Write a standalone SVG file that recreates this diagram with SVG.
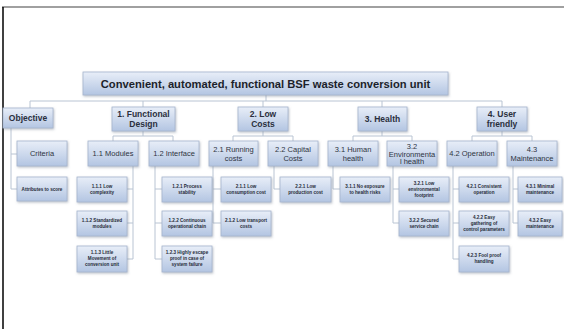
<svg xmlns="http://www.w3.org/2000/svg" width="564" height="329" viewBox="0 0 564 329">
<defs>
<linearGradient id="g" x1="0" y1="0" x2="0" y2="1">
<stop offset="0" stop-color="#e8eef8"/>
<stop offset="1" stop-color="#b3c5e2"/>
</linearGradient>
<filter id="sh" x="-10%" y="-10%" width="130%" height="140%">
<feDropShadow dx="0.8" dy="1.2" stdDeviation="0.8" flood-color="#7a8494" flood-opacity="0.5"/>
</filter>
<style>
.b{fill:url(#g);stroke:#a6b5cd;stroke-width:0.8;filter:url(#sh)}
.c{fill:none;stroke:#b9c4d3;stroke-width:1}
text{font-family:"Liberation Sans",Arial,sans-serif;text-anchor:middle;fill:#2a2f3d}
.t0{font-size:11.2px;font-weight:bold;fill:#1c1f2a}
.t1{font-size:8.5px;font-weight:bold}
.t2{font-size:7.5px;fill:#2e3442}
.t3{font-size:4.6px;font-weight:bold;fill:#262b38}
</style>
</defs>
<rect x="0" y="0" width="564" height="329" fill="#ffffff"/>
<line x1="2" y1="7" x2="564" y2="7" stroke="#a0a0a0" stroke-width="2"/>
<line x1="3" y1="7" x2="3" y2="329" stroke="#000000" stroke-width="1.5"/>

<g id="connectors">
<path class="c" d="M266 95V101M30 101H502M30 101V108M143 101V107M263 101V107M382 101V107M502 101V107"/>
<path class="c" d="M11 128V189M11 154H17M11 189H17"/>
<path class="c" d="M143 131V136M113 136H173M113 136V141M173 136V141"/>
<path class="c" d="M133 166V259M133 189H127M133 223H127M133 259H127"/>
<path class="c" d="M155 166V259M155 189H162M155 223H162M155 259H162"/>
<path class="c" d="M263 131V136M233 136H293M233 136V141M293 136V141"/>
<path class="c" d="M213 166V223M213 189H221M213 223H221"/>
<path class="c" d="M274 166V189H280"/>
<path class="c" d="M382 131V136M353 136H412M353 136V141M412 136V141"/>
<path class="c" d="M333 166V189H340"/>
<path class="c" d="M393 166V223M393 189H399M393 223H399"/>
<path class="c" d="M502 131V136M472 136H532M472 136V141M532 136V141"/>
<path class="c" d="M453 166V259M453 189H459M453 223H459M453 259H459"/>
<path class="c" d="M513 166V223M513 189H518M513 223H518"/>
</g>

<g id="root"><rect class="b" x="83" y="72" width="365" height="23"/><text class="t0" x="265.5" y="87.5">Convenient, automated, functional  BSF waste conversion unit</text></g>

<g id="objective"><rect class="b" x="3" y="108" width="50" height="20"/><text class="t1" x="28" y="121">Objective</text></g>
<g id="n1"><rect class="b" x="112" y="107" width="63" height="24"/><text class="t1" x="143.5" y="117">1. Functional</text><text class="t1" x="143.5" y="127">Design</text></g>
<g id="n2"><rect class="b" x="238" y="107" width="50" height="24"/><text class="t1" x="263" y="117">2. Low</text><text class="t1" x="263" y="127">Costs</text></g>
<g id="n3"><rect class="b" x="358" y="107" width="49" height="24"/><text class="t1" x="382.5" y="122">3. Health</text></g>
<g id="n4"><rect class="b" x="477" y="107" width="50" height="24"/><text class="t1" x="502" y="117">4. User</text><text class="t1" x="502" y="127">friendly</text></g>

<g id="criteria"><rect class="b" x="17" y="141" width="50" height="25"/><text class="t2" x="42" y="156">Criteria</text></g>
<g id="n11"><rect class="b" x="88" y="141" width="50" height="25"/><text class="t2" x="113" y="156">1.1 Modules</text></g>
<g id="n12"><rect class="b" x="149" y="141" width="50" height="25"/><text class="t2" x="174" y="156">1.2 Interface</text></g>
<g id="n21"><rect class="b" x="209" y="141" width="49" height="25"/><text class="t2" x="233.5" y="152">2.1 Running</text><text class="t2" x="233.5" y="161">costs</text></g>
<g id="n22"><rect class="b" x="268" y="141" width="50" height="25"/><text class="t2" x="293" y="152">2.2 Capital</text><text class="t2" x="293" y="161">Costs</text></g>
<g id="n31"><rect class="b" x="328" y="141" width="50" height="25"/><text class="t2" x="353" y="152">3.1 Human</text><text class="t2" x="353" y="161">health</text></g>
<g id="n32"><rect class="b" x="387" y="141" width="50" height="25"/><text class="t2" x="412" y="149">3.2</text><text class="t2" x="412" y="156.5">Environmenta</text><text class="t2" x="412" y="164">l health</text></g>
<g id="n42"><rect class="b" x="447" y="141" width="50" height="25"/><text class="t2" x="472" y="156">4.2 Operation</text></g>
<g id="n43"><rect class="b" x="507" y="141" width="50" height="25"/><text class="t2" x="532" y="152">4.3</text><text class="t2" x="532" y="161">Maintenance</text></g>

<g id="attr"><rect class="b" x="17" y="177" width="50" height="24"/><text class="t3" x="42" y="190.5">Attributes to score</text></g>
<g id="n111"><rect class="b" x="77" y="177" width="50" height="25"/><text class="t3" x="102" y="188">1.1.1 Low</text><text class="t3" x="102" y="194">complexity</text></g>
<g id="n112"><rect class="b" x="77" y="211" width="50" height="25"/><text class="t3" x="102" y="222">1.1.2 Standardized</text><text class="t3" x="102" y="228">modules</text></g>
<g id="n113"><rect class="b" x="77" y="246" width="50" height="26"/><text class="t3" x="102" y="254">1.1.3 Little</text><text class="t3" x="102" y="260">Movement of</text><text class="t3" x="102" y="266">conversion unit</text></g>
<g id="n121"><rect class="b" x="162" y="177" width="50" height="25"/><text class="t3" x="187" y="188">1.2.1 Process</text><text class="t3" x="187" y="194">stability</text></g>
<g id="n122"><rect class="b" x="162" y="211" width="50" height="25"/><text class="t3" x="187" y="222">1.2.2 Continuous</text><text class="t3" x="187" y="228">operational chain</text></g>
<g id="n123"><rect class="b" x="162" y="246" width="50" height="26"/><text class="t3" x="187" y="254">1.2.3 Highly escape</text><text class="t3" x="187" y="260">proof in case of</text><text class="t3" x="187" y="266">system failure</text></g>
<g id="n211"><rect class="b" x="221" y="177" width="50" height="25"/><text class="t3" x="246" y="188">2.1.1 Low</text><text class="t3" x="246" y="194">consumption cost</text></g>
<g id="n212"><rect class="b" x="221" y="211" width="50" height="25"/><text class="t3" x="246" y="222">2.1.2 Low transport</text><text class="t3" x="246" y="228">costs</text></g>
<g id="n221"><rect class="b" x="280" y="177" width="51" height="25"/><text class="t3" x="305.5" y="188">2.2.1 Low</text><text class="t3" x="305.5" y="194">production cost</text></g>
<g id="n311"><rect class="b" x="340" y="177" width="50" height="25"/><text class="t3" x="365" y="188">3.1.1 No exposure</text><text class="t3" x="365" y="194">to health risks</text></g>
<g id="n321"><rect class="b" x="399" y="177" width="50" height="25"/><text class="t3" x="424" y="185">3.2.1 Low</text><text class="t3" x="424" y="191">environmental</text><text class="t3" x="424" y="197">footprint</text></g>
<g id="n322"><rect class="b" x="399" y="211" width="50" height="25"/><text class="t3" x="424" y="222">3.2.2 Secured</text><text class="t3" x="424" y="228">service chain</text></g>
<g id="n421"><rect class="b" x="459" y="177" width="50" height="25"/><text class="t3" x="484" y="188">4.2.1 Consistent</text><text class="t3" x="484" y="194">operation</text></g>
<g id="n422"><rect class="b" x="459" y="211" width="50" height="25"/><text class="t3" x="484" y="219">4.2.2 Easy</text><text class="t3" x="484" y="225">gathering of</text><text class="t3" x="484" y="231">control parameters</text></g>
<g id="n423"><rect class="b" x="459" y="246" width="50" height="26"/><text class="t3" x="484" y="257">4.2.3 Fool proof</text><text class="t3" x="484" y="263">handling</text></g>
<g id="n431"><rect class="b" x="518" y="177" width="44" height="25"/><text class="t3" x="540" y="188">4.3.1 Minimal</text><text class="t3" x="540" y="194">maintenance</text></g>
<g id="n432"><rect class="b" x="518" y="211" width="44" height="25"/><text class="t3" x="540" y="222">4.3.2 Easy</text><text class="t3" x="540" y="228">maintenance</text></g>
</svg>
